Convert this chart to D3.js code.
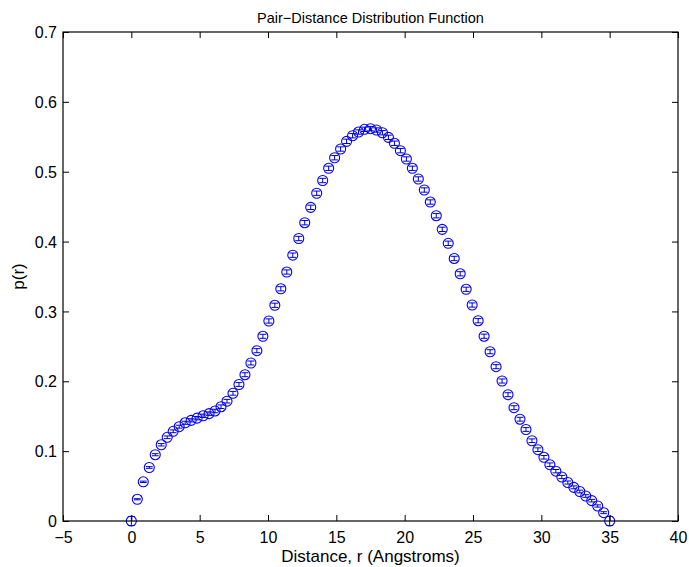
<!DOCTYPE html>
<html>
<head>
<meta charset="utf-8">
<script src="https://cdn.jsdelivr.net/npm/d3@7"></script>
<style>
html,body{margin:0;padding:0;background:#fff;}
svg{display:block;}
text{font-family:"Liberation Sans",Arial,Helvetica,sans-serif;fill:#000;}
</style>
</head>
<body>
<svg id="chart" width="689" height="567"></svg>
<script>
// ---- data ----
const rStep = 0.4375;
const pValues = [
 0.0000,0.0311,0.0561,0.0766,0.0949,0.1091,0.1198,0.1284,0.1350,0.1406,
 0.1441,0.1472,0.1506,0.1537,0.1575,0.1636,0.1715,0.1828,0.1954,0.2094,
 0.2262,0.2438,0.2644,0.2863,0.3088,0.3324,0.3564,0.3805,0.4044,0.4270,
 0.4490,0.4692,0.4874,0.5049,0.5200,0.5325,0.5435,0.5515,0.5568,0.5607,
 0.5616,0.5597,0.5558,0.5492,0.5407,0.5301,0.5182,0.5049,0.4896,0.4738,
 0.4566,0.4370,0.4175,0.3975,0.3758,0.3539,0.3317,0.3092,0.2867,0.2645,
 0.2423,0.2209,0.2004,0.1808,0.1622,0.1457,0.1310,0.1149,0.1021,0.0912,
 0.0806,0.0713,0.0630,0.0551,0.0482,0.0422,0.0358,0.0291,0.0215,0.0119,
 0.0000
];
const pErrors = [
 0.0065,0.0008,0.0010,0.0012,0.0015,0.0017,0.0019,0.0020,0.0021,0.0022,
 0.0023,0.0024,0.0024,0.0025,0.0025,0.0026,0.0026,0.0027,0.0027,0.0028,
 0.0028,0.0029,0.0029,0.0030,0.0030,0.0030,0.0030,0.0031,0.0031,0.0031,
 0.0031,0.0031,0.0031,0.0031,0.0031,0.0031,0.0031,0.0031,0.0031,0.0031,
 0.0031,0.0031,0.0031,0.0031,0.0031,0.0031,0.0031,0.0031,0.0031,0.0031,
 0.0031,0.0031,0.0031,0.0031,0.0031,0.0030,0.0030,0.0030,0.0030,0.0030,
 0.0029,0.0029,0.0029,0.0028,0.0028,0.0027,0.0027,0.0026,0.0026,0.0025,
 0.0025,0.0024,0.0023,0.0022,0.0021,0.0020,0.0019,0.0018,0.0016,0.0014,
 0.0065
];
const rValues = pValues.map((_, i) => i * rStep);
const xTicks = [-5,0,5,10,15,20,25,30,35,40];
const yTicks = [0,0.1,0.2,0.3,0.4,0.5,0.6,0.7];
const titleText = "Pair\u2212Distance Distribution Function";
const xLabelText = "Distance, r (Angstroms)";
const yLabelText = "p(r)";
const capHalf = 0.25; // in r units

// ---- layout ----
const L = 63, R = 678, T = 32, B = 521;
const FS = 16;
const svg = d3.select("#chart");
const x = d3.scaleLinear().domain([-5, 40]).range([L, R]);
const y = d3.scaleLinear().domain([0, 0.7]).range([B, T]);
const blue = "#0000ff";
const tickLen = 6;

// markers and error bars
const g = svg.append("g");
const pts = rValues.map((r, i) => ({r, p: pValues[i], e: pErrors[i]}));
const eb = g.append("g").attr("stroke", "#0000cc").attr("stroke-width", 1).attr("fill", "none");
pts.forEach(d => {
  const xc = x(d.r), y1 = y(d.p - d.e), y2 = y(d.p + d.e);
  const xl = x(d.r - capHalf), xr = x(d.r + capHalf);
  eb.append("path").attr("d", `M${xc},${y1}V${y2}M${xl},${y1}H${xr}M${xl},${y2}H${xr}`);
});
g.append("g").selectAll("circle").data(pts).join("circle")
  .attr("cx", d => x(d.r)).attr("cy", d => y(d.p)).attr("r", 5)
  .attr("fill", "none").attr("stroke", blue).attr("stroke-width", 1.1);

// axes (MATLAB box style, ticks inward)
const axG = svg.append("g").attr("stroke", "#000").attr("stroke-width", 1.2).attr("fill", "none");
axG.append("rect").attr("x", L).attr("y", T).attr("width", R - L).attr("height", B - T);

const xAxisB = d3.axisBottom(x).tickValues(xTicks).tickSizeInner(-tickLen).tickSizeOuter(0)
  .tickPadding(11).tickFormat(d => d < 0 ? "\u2212" + Math.abs(d) : d);
const gx = svg.append("g").attr("transform", `translate(0,${B})`).call(xAxisB);
const xAxisT = d3.axisTop(x).tickValues(xTicks).tickSizeInner(-tickLen).tickSizeOuter(0).tickFormat("");
const gxt = svg.append("g").attr("transform", `translate(0,${T})`).call(xAxisT);

const yAxisL = d3.axisLeft(y).tickValues(yTicks).tickSizeInner(-tickLen).tickSizeOuter(0)
  .tickPadding(6).tickFormat(d => d === 0 ? "0" : d3.format(".1f")(d));
const gy = svg.append("g").attr("transform", `translate(${L},0)`).call(yAxisL);
const yAxisR = d3.axisRight(y).tickValues(yTicks).tickSizeInner(-tickLen).tickSizeOuter(0).tickFormat("");
const gyr = svg.append("g").attr("transform", `translate(${R},0)`).call(yAxisR);

[gx, gxt, gy, gyr].forEach(a => {
  a.select(".domain").remove();
  a.selectAll("line").attr("stroke", "#000");
  a.selectAll("text").attr("font-family", "Liberation Sans, Arial, sans-serif")
    .attr("font-size", FS).attr("fill", "#000");
});
gy.selectAll("text").attr("dy", "0.35em");

// titles
svg.append("text").attr("x", (L + R) / 2).attr("y", 23).attr("text-anchor", "middle")
  .attr("font-size", 14.5).text(titleText);
svg.append("text").attr("x", (L + R) / 2).attr("y", 562).attr("text-anchor", "middle")
  .attr("font-size", 17).text(xLabelText);
svg.append("text").attr("transform", `translate(24,${(T + B) / 2}) rotate(-90)`)
  .attr("text-anchor", "middle").attr("font-size", 17).text(yLabelText);
</script>
</body>
</html>
